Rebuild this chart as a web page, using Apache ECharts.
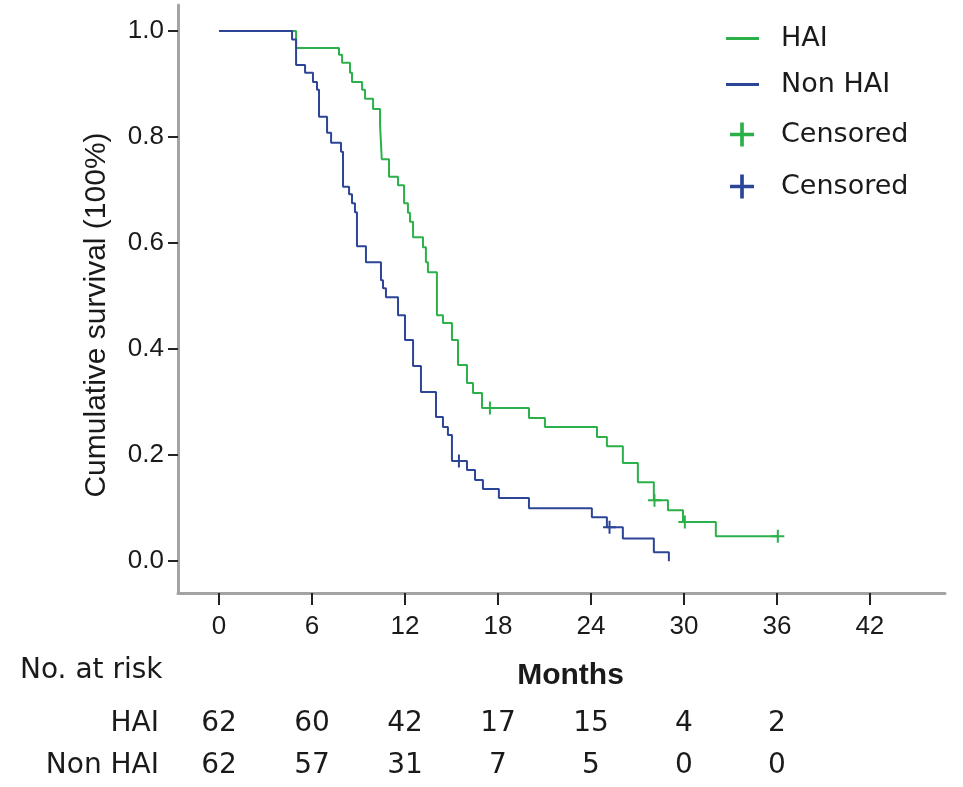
<!DOCTYPE html>
<html>
<head>
<meta charset="utf-8">
<title>Cumulative survival HAI vs Non HAI</title>
<script src="https://cdn.jsdelivr.net/npm/echarts@6/dist/echarts.min.js"></script>
<style>
    html, body { margin: 0; padding: 0; background: #fff; }
    #chart { width: 963px; height: 787px; }
</style>
</head>
<body>
<div id="chart"></div>
<script>
// 月份刻度
var monthTicks = [0, 6, 12, 18, 24, 30, 36, 42];
var survTicks = [0, 0.2, 0.4, 0.6, 0.8, 1.0];

// HAI 生存曲线 (时间, 生存率)
var haiTime = [0, 4.97, 7.74, 7.94, 8.45, 8.58, 9.23, 9.42, 9.94, 10.39, 10.5, 10.97, 11.55, 11.94, 12.19, 12.32, 12.52,
    13.16, 13.35, 13.48, 14.06, 14.45, 15.03, 15.42, 16.0, 16.39, 16.97, 20.0, 21.03, 24.39, 25.03, 26.06, 27.03,
    28.06, 28.97, 29.94, 32.06, 36.06];
var haiSurv = [1.0, 0.968, 0.955, 0.94, 0.921, 0.904, 0.889, 0.872, 0.853, 0.823, 0.758, 0.725, 0.709, 0.675, 0.657, 0.64, 0.611,
    0.592, 0.564, 0.545, 0.464, 0.449, 0.417, 0.37, 0.336, 0.317, 0.289, 0.27, 0.253, 0.234, 0.217, 0.185, 0.149,
    0.115, 0.096, 0.074, 0.047, 0.047];

// Non HAI 生存曲线
var nonTime = [0, 4.71, 4.97, 5.55, 6.06, 6.32, 6.45, 6.97, 7.23, 7.87, 8.0, 8.39, 8.58, 8.77, 8.9, 9.48, 10.45, 10.58,
    10.77, 11.55, 12.0, 12.52, 13.03, 14.0, 14.45, 14.77, 15.03, 16.0, 16.52, 17.03, 18.06, 20.0, 24.06, 25.03,
    26.06, 28.06, 29.03];
var nonSurv = [1.0, 0.984, 0.936, 0.921, 0.904, 0.889, 0.838, 0.808, 0.789, 0.772, 0.706, 0.692, 0.675, 0.658, 0.594, 0.564, 0.53, 0.515,
    0.498, 0.464, 0.417, 0.368, 0.319, 0.272, 0.253, 0.238, 0.189, 0.172, 0.153, 0.136, 0.119, 0.1, 0.083, 0.064,
    0.043, 0.017, 0.0];

// 删失点
var haiCensorTime = [17.48, 28.1, 30.06, 36.06];
var haiCensorSurv = [0.289, 0.115, 0.074, 0.047];
var nonCensorTime = [15.48, 25.2];
var nonCensorSurv = [0.189, 0.064];

// 风险人数表
var riskRows = ['HAI', 'Non HAI'];
var riskHai = [62, 60, 42, 17, 15, 4, 2];
var riskNon = [62, 57, 31, 7, 5, 0, 0];

var GREEN = '#2cb14a';
var BLUE = '#2c4596';
var TEXT = '#1a1a1a';
var AXIS_FONT = 'Liberation Sans, Arial, sans-serif';
var UI_FONT = 'DejaVu Sans, sans-serif';
var CROSS = 'path://M5.5,0h2v5.5h5.5v2h-5.5v5.5h-2v-5.5h-5.5v-2h5.5z';

function zip(xs, ys){
    var out = [];
    for(var i = 0; i < xs.length; i++) out.push([xs[i], ys[i]]);
    return out;
}

var riskData = [];
for(var i = 0; i < riskHai.length; i++){
    riskData.push([monthTicks[i], riskRows[0], riskHai[i]]);
    riskData.push([monthTicks[i], riskRows[1], riskNon[i]]);
}

var X_MIN = -2.65, X_MAX = 46.85;

var chart = echarts.init(document.getElementById('chart'));
var option = {
    animation: false,
    backgroundColor: '#fff',
    title: {
        text: 'No. at risk',
        left: 15,
        top: 652,
        textStyle: { fontFamily: UI_FONT, fontSize: 28, fontWeight: 'normal', color: TEXT }
    },
    legend: [
        {
            data: [{name: 'HAI', icon: 'rect'}, {name: 'Non HAI', icon: 'rect'}],
            orient: 'vertical',
            left: 721,
            top: 20,
            itemWidth: 33,
            itemHeight: 3,
            itemGap: 19,
            textStyle: { fontFamily: UI_FONT, fontSize: 27, color: TEXT, padding: [0, 0, 0, 17] }
        },
        {
            data: ['Censored HAI', 'Censored Non HAI'],
            orient: 'vertical',
            left: 725,
            top: 116,
            itemWidth: 24,
            itemHeight: 24,
            itemGap: 25,
            formatter: function(name){ return 'Censored'; },
            textStyle: { fontFamily: UI_FONT, fontSize: 27, color: TEXT, padding: [0, 0, 0, 22] }
        }
    ],
    grid: [
        { left: 178, right: 18, top: 5, bottom: 194 },
        { left: 178, right: 18, top: 702, height: 94 }
    ],
    xAxis: [
        {
            type: 'value',
            gridIndex: 0,
            min: X_MIN,
            max: X_MAX,
            name: 'Months',
            nameLocation: 'middle',
            nameGap: 68,
            nameTextStyle: { fontFamily: AXIS_FONT, fontSize: 30, fontWeight: 'bold', color: TEXT, padding: [0, 0, 0, 18] },
            axisLine: { show: true, onZero: false, lineStyle: { color: '#a3a3a3', width: 3 } },
            axisTick: { show: true, customValues: monthTicks, length: 12, lineStyle: { color: '#222', width: 2 } },
            axisLabel: { customValues: monthTicks, margin: 21, fontFamily: AXIS_FONT, fontSize: 26, color: TEXT },
            splitLine: { show: false }
        },
        {
            type: 'value',
            gridIndex: 1,
            min: X_MIN,
            max: X_MAX,
            show: false
        }
    ],
    yAxis: [
        {
            type: 'value',
            gridIndex: 0,
            min: -0.06,
            max: 1.049,
            name: 'Cumulative survival (100%)',
            nameLocation: 'middle',
            nameGap: 66,
            nameTextStyle: { fontFamily: AXIS_FONT, fontSize: 30, color: TEXT, padding: [0, 32, 0, 0] },
            axisLine: { show: true, onZero: false, lineStyle: { color: '#a3a3a3', width: 3 } },
            axisTick: { show: true, customValues: survTicks, length: 10, lineStyle: { color: '#222', width: 2 } },
            axisLabel: {
                customValues: survTicks,
                margin: 14,
                fontFamily: AXIS_FONT,
                fontSize: 26,
                color: TEXT,
                formatter: function(v){ return v.toFixed(1); }
            },
            splitLine: { show: false }
        },
        {
            type: 'category',
            gridIndex: 1,
            data: riskRows,
            inverse: true,
            axisLine: { show: false },
            axisTick: { show: false },
            axisLabel: { margin: 19, fontFamily: UI_FONT, fontSize: 28, color: TEXT }
        }
    ],
    series: [
        {
            name: 'HAI',
            type: 'line',
            step: 'end',
            xAxisIndex: 0, yAxisIndex: 0,
            symbol: 'none',
            color: GREEN,
            lineStyle: { color: GREEN, width: 2 },
            data: zip(haiTime, haiSurv)
        },
        {
            name: 'Non HAI',
            type: 'line',
            step: 'end',
            xAxisIndex: 0, yAxisIndex: 0,
            symbol: 'none',
            color: BLUE,
            lineStyle: { color: BLUE, width: 2 },
            data: zip(nonTime, nonSurv)
        },
        {
            name: 'Censored HAI',
            type: 'scatter',
            xAxisIndex: 0, yAxisIndex: 0,
            symbol: CROSS,
            symbolSize: 13,
            itemStyle: { color: GREEN, opacity: 1 },
            data: zip(haiCensorTime, haiCensorSurv)
        },
        {
            name: 'Censored Non HAI',
            type: 'scatter',
            xAxisIndex: 0, yAxisIndex: 0,
            symbol: CROSS,
            symbolSize: 13,
            itemStyle: { color: BLUE, opacity: 1 },
            data: zip(nonCensorTime, nonCensorSurv)
        },
        {
            // 风险人数
            name: 'risk',
            type: 'scatter',
            xAxisIndex: 1, yAxisIndex: 1,
            symbolSize: 0,
            silent: true,
            itemStyle: { opacity: 1 },
            label: {
                show: true,
                position: 'inside',
                fontFamily: UI_FONT,
                fontSize: 28,
                color: TEXT,
                formatter: function(p){ return String(p.value[2]); }
            },
            data: riskData
        }
    ]
};
chart.setOption(option);
</script>
</body>
</html>
